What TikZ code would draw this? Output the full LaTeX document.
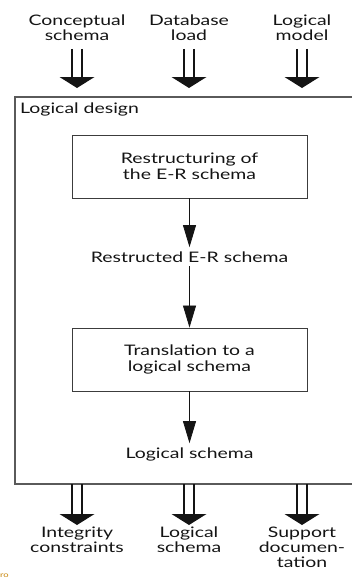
\documentclass[tikz,border=0pt]{standalone}
\usepackage{fontspec}
\setmainfont{Lato}[FakeStretch=1.34]
\usetikzlibrary{calc,arrows.meta}

\definecolor{ink}{HTML}{141414}
\definecolor{frame}{HTML}{5A5A5A}
\definecolor{boxline}{HTML}{3C3C3C}
\definecolor{stamp}{HTML}{C8860A}

\tikzset{
  lbl/.style={inner sep=0pt, align=center, text=ink,
    font=\fontsize{14.5}{14.5}\selectfont},
  outlbl/.style={inner sep=0pt, align=center, text=ink,
    font=\fontsize{14.5}{15}\selectfont},
  stepbox/.style={draw=boxline, line width=0.9pt, minimum width=235pt,
    minimum height=63pt, inner sep=0pt, align=center, text=ink,
    font=\fontsize{14.5}{16}\selectfont},
  flowlbl/.style={inner xsep=0pt, inner ysep=4pt, text=ink,
    font=\fontsize{14.5}{16}\selectfont},
  flow/.style={draw=ink, line width=0.8pt,
    -{Triangle[length=22pt,width=13pt]}},
  dblline/.style={draw=ink, line width=1.1pt},
}

% fat double-shafted arrow from #1 down to the tip #2
\newcommand\fatarrow[2]{%
  \draw[dblline] ($(#1)+(-5,0)$) -- ($(#2)+(-5,-11)$);
  \draw[dblline] ($(#1)+(5,0)$) -- ($(#2)+(5,-11)$);
  \fill[ink] ($(#2)+(-17.5,-11)$) -- ($(#2)+(17.5,-11)$) -- (#2) -- cycle;}

\begin{document}
\begin{tikzpicture}[x=1pt,y=-1pt]
  \useasboundingbox (0,0) rectangle (351,578);
  \fill[white] (0,0) rectangle (351,578);

  % inputs
  \node[lbl, anchor=north] (inA) at (77,15) {Conceptual\\schema};
  \node[lbl, anchor=north] (inB) at (189,15) {Database\\load};
  \node[lbl, anchor=north] (inC) at (302,15) {Logical\\model};

  % the logical design frame (open on the right)
  \coordinate (ftl) at (15,97);
  \coordinate (fbl) at (15,484);
  \draw[frame, line width=1.3pt] (360,97) -- (ftl) -- (fbl) -- (360,484);
  \node[anchor=base west, inner sep=0pt, text=ink,
        font=\fontsize{14.5}{16}\selectfont] (title) at (20,113) {Logical design};

  % arrows into the frame
  \coordinate (tA) at (77,49);  \coordinate (hA) at (77,88);
  \coordinate (tB) at (189,49); \coordinate (hB) at (189,88);
  \coordinate (tC) at (302,49); \coordinate (hC) at (302,88);
  \fatarrow{tA}{hA}
  \fatarrow{tB}{hB}
  \fatarrow{tC}{hC}

  % steps
  \node[stepbox] (s1) at (189.5,166.5) {Restructuring of\\the E-R schema};
  \node[flowlbl, anchor=base] (m1) at (189.5,262) {Restructed E-R schema};
  \node[stepbox] (s2) at (189.5,359.5) {Translation to a\\logical schema};
  \node[flowlbl, anchor=base] (m2) at (189.5,458) {Logical schema};

  \draw[flow] (s1.south) -- (m1.north);
  \draw[flow] (m1.south) -- (s2.north);
  \draw[flow] (s2.south) -- (m2.north);

  % outputs
  \coordinate (oA) at (77,484);  \coordinate (pA) at (77,525);
  \coordinate (oB) at (189,484); \coordinate (pB) at (189,525);
  \coordinate (oC) at (302,484); \coordinate (pC) at (302,525);
  \fatarrow{oA}{pA}
  \fatarrow{oB}{pB}
  \fatarrow{oC}{pC}

  \node[outlbl, anchor=north] (outA) at (77,527) {Integrity\\constraints};
  \node[outlbl, anchor=north] (outB) at (189,527) {Logical\\schema};
  \node[outlbl, anchor=north] (outC) at (302,527) {Support\\documen-\\tation};

  % cut-off stamp in the lower left corner
  \begin{scope}
    \clip (0,570) rectangle (14,578);
    \node[anchor=north west, inner sep=0pt, text=stamp,
          font=\fontsize{7}{7}\selectfont] (stampnote) at (0,574) {ro};
  \end{scope}
\end{tikzpicture}
\end{document}
